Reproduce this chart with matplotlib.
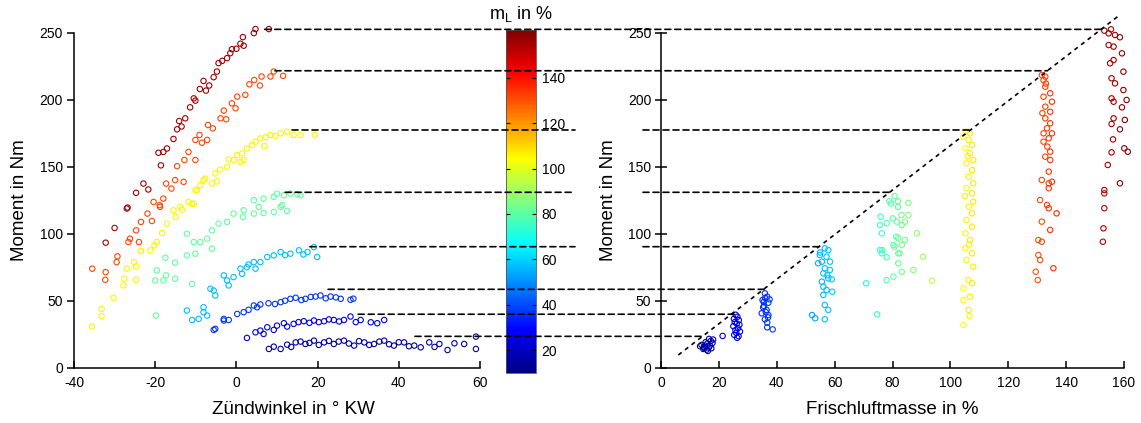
import matplotlib
matplotlib.use("Agg")
import matplotlib.pyplot as plt
from matplotlib.colors import Normalize, LinearSegmentedColormap
from matplotlib.cm import ScalarMappable
from matplotlib.patches import ConnectionPatch
from matplotlib.transforms import blended_transform_factory

plt.rcParams['font.family'] = ['Liberation Sans', 'DejaVu Sans']
plt.rcParams['mathtext.fontset'] = 'custom'
plt.rcParams['mathtext.rm'] = 'Liberation Sans'
plt.rcParams['axes.unicode_minus'] = False

# --- left plot: Zuendwinkel (deg KW) vs Moment (Nm), per air-mass level ---
zw_156 = [-32.2, -30.0, -27.0, -26.8, -24.7, -22.9, -21.7, -19.2, -18.0, -18.6, -17.1, -15.5, -14.6, -14.1,
          -12.6, -11.4, -10.5, -10.1, -8.1, -7.5, -6.7, -5.6, -4.8, -4.4, -2.3, -1.5, -1.1, 1.0, 1.8, 1.6,
          4.3, 4.7, 8.0, -13.5, -9.0, -3.5, 0.0]
md_156 = [93.3, 104.3, 118.8, 119.5, 130.5, 137.4, 133.0, 160.4, 161.0, 151.0, 163.6, 170.7, 177.9, 184.1,
          186.1, 194.3, 201.0, 199.3, 214.0, 206.8, 210.6, 216.8, 221.0, 227.3, 231.0, 234.7, 237.7, 241.8,
          240.3, 246.7, 249.7, 252.7, 252.7, 180.0, 208.0, 229.0, 238.0]

zw_132 = [-35.5, -32.2, -32.3, -29.3, -29.5, -26.6, -26.2, -24.0, -24.7, -23.5, -20.8, -21.9, -18.8, -20.4,
          -18.9, -18.0, -17.3, -16.0, -15.1, -14.6, -13.0, -12.8, -11.8, -10.1, -10.1, -9.1, -8.5, -7.2,
          -7.0, -5.8, -3.9, -3.1, -2.5, -1.1, -0.2, 0.2, 2.2, 3.2, 4.4, 5.8, 6.2, 8.4, 9.2, 11.5]
md_132 = [73.9, 71.3, 65.6, 83.1, 78.8, 93.8, 96.3, 93.8, 102.5, 108.8, 109.5, 115.0, 120.0, 123.7,
          121.3, 126.2, 137.4, 133.7, 140.0, 150.4, 138.7, 155.0, 161.0, 155.0, 170.0, 173.7, 167.9, 170.0,
          181.1, 178.6, 186.1, 191.9, 185.4, 197.3, 193.6, 202.3, 203.6, 211.5, 214.7, 210.6, 217.3, 217.3,
          221.0, 217.8]

zw_106 = [-35.6, -33.2, -33.2, -30.3, -27.8, -27.6, -27.0, -24.7, -25.2, -24.7, -23.5, -21.2, -20.2, -19.6,
          -18.3, -17.1, -15.0, -15.5, -13.4, -13.8, -11.8, -11.0, -10.5, -9.7, -10.1, -8.9, -8.1, -7.7,
          -6.0, -4.8, -5.2, -4.0, -2.3, -1.9, -0.7, 0.2, 1.0, 1.4, 1.8, 2.6, 3.9, 4.7, 5.9, 6.9, 7.2, 8.4,
          9.6, 10.9, 12.5, 14.1, 15.8, 19.3]
md_106 = [30.7, 43.9, 38.4, 52.2, 61.4, 66.4, 73.9, 65.6, 78.8, 75.6, 87.1, 87.6, 91.3, 93.8,
          100.5, 107.5, 112.5, 117.5, 118.0, 120.0, 123.7, 122.4, 122.4, 132.5, 132.5, 136.2, 140.0, 141.2,
          137.4, 139.0, 145.0, 147.9, 149.9, 155.4, 155.0, 158.7, 153.7, 159.9, 155.0, 163.6, 166.2, 168.6,
          171.1, 165.4, 171.9, 173.7, 172.9, 174.9, 176.1, 173.7, 173.7, 173.7]

zw_81 = [-19.8, -20.0, -18.0, -19.6, -17.3, -15.1, -15.1, -17.5, -10.9, -12.2, -10.1, -12.2, -10.5, -8.9,
         -6.0, -7.2, -6.0, -4.4, -2.3, -0.7, 1.6, 1.8, 4.3, 4.3, 5.5, 6.7, 6.7, 9.2, 9.2, 10.0, 10.9,
         11.3, 11.7, 13.3, 15.0, 15.8, 12.5]
md_81 = [38.9, 65.1, 65.1, 72.6, 68.9, 66.4, 78.4, 82.1, 62.6, 83.8, 85.1, 100.0, 93.8, 93.8,
         88.8, 96.3, 102.5, 107.5, 108.8, 115.0, 112.5, 117.5, 115.0, 125.0, 120.0, 126.2, 115.5, 116.2,
         127.5, 129.9, 120.0, 121.3, 128.7, 129.9, 129.5, 128.7, 117.0]

zw_57 = [-12.2, -10.9, -9.3, -8.1, -8.1, -7.2, -6.4, -5.6, -5.2, -3.1, -2.3, -1.9, -0.7, 1.0, 1.4, 2.6,
         4.3, 4.7, 5.9, 7.6, 9.2, 10.9, 13.3, 15.4, 17.5, 19.1, 19.9, 12.0, 16.5, 3.0]
md_57 = [42.7, 35.6, 36.4, 45.1, 41.4, 38.9, 58.9, 57.6, 53.9, 68.9, 65.1, 61.4, 67.6, 73.9, 70.1, 75.0,
         78.8, 73.9, 78.8, 82.6, 83.8, 86.3, 85.1, 87.6, 86.3, 90.0, 82.6, 84.0, 84.5, 77.0]

zw_37 = [-5.6, -5.2, -3.1, -3.1, -1.9, 0.2, 1.8, 3.0, 4.3, 5.1, 5.9, 7.9, 9.5, 10.9, 12.0, 13.3, 14.6,
         16.0, 17.0, 18.3, 19.5, 20.7, 22.0, 23.2, 24.5, 25.7, 28.1, 28.8]
md_37 = [28.2, 29.0, 35.2, 36.4, 35.6, 40.1, 41.4, 43.2, 46.4, 45.1, 47.2, 48.1, 47.5, 48.9, 50.0, 51.4,
         52.2, 50.5, 51.4, 52.8, 53.1, 53.9, 51.8, 53.1, 52.5, 51.4, 50.7, 51.5]

zw_26 = [2.6, 4.7, 5.9, 6.7, 7.6, 9.2, 10.0, 11.7, 12.5, 14.1, 15.3, 16.6, 18.0, 19.1, 20.3, 21.6, 22.8,
         24.0, 25.3, 26.5, 28.1, 29.4, 30.6, 33.1, 34.7, 36.4]
md_26 = [22.2, 26.4, 27.7, 25.2, 30.2, 28.2, 31.4, 33.2, 30.7, 32.7, 34.0, 34.7, 33.5, 35.2, 34.0, 34.7,
         36.0, 35.6, 34.5, 35.6, 38.2, 34.0, 35.6, 33.9, 33.2, 35.6]

zw_15 = [8.0, 9.2, 10.9, 12.5, 13.5, 14.6, 15.8, 17.0, 18.0, 19.1, 20.3, 21.6, 22.8, 24.0, 25.2, 26.5,
         27.7, 29.0, 30.2, 31.5, 32.7, 33.9, 35.2, 36.4, 37.6, 38.8, 40.0, 41.3, 42.5, 43.8, 45.4, 47.5,
         48.8, 50.0, 52.0, 53.7, 56.1, 59.0, 59.0]
md_15 = [14.0, 15.7, 14.0, 17.2, 15.5, 18.9, 19.5, 17.7, 18.5, 20.2, 17.0, 18.9, 20.0, 17.7, 19.5, 20.2,
         18.0, 16.5, 19.8, 18.9, 17.0, 17.7, 19.5, 20.2, 17.5, 16.5, 19.0, 18.9, 16.0, 16.5, 15.2, 18.9,
         15.5, 17.7, 13.2, 18.2, 17.7, 23.2, 14.0]

# --- right plot: Frischluftmasse (%) vs Moment (Nm) ---
ml_156 = [153.2, 155.5, 154.7, 156.9, 158.6, 154.7, 156.4, 159.3, 156.4, 155.2, 159.8, 155.7, 156.9, 159.8,
          155.7, 160.9, 156.4, 159.3, 156.4, 155.7, 160.3, 158.6, 156.2, 160.1, 161.3, 155.7, 154.4, 158.6,
          153.2, 153.2, 153.2, 152.9, 152.7]
mr_156 = [251.5, 252.5, 249.5, 248.3, 246.6, 240.8, 239.6, 234.6, 229.6, 227.2, 220.9, 216.0, 212.2, 207.2,
          201.0, 199.8, 198.5, 194.3, 186.1, 181.9, 184.9, 177.9, 170.4, 163.7, 161.2, 160.7, 151.3, 137.6,
          132.6, 130.1, 119.0, 104.0, 94.0]

ml_132 = [131.6, 132.8, 132.2, 132.8, 134.5, 132.2, 135.1, 132.8, 134.5, 132.8, 134.5, 133.4, 132.2, 135.1,
          134.0, 132.2, 134.5, 132.8, 134.5, 134.0, 131.6, 134.0, 135.1, 134.0, 131.0, 133.4, 134.0, 136.7,
          131.6, 134.5, 130.4, 131.6, 130.4, 131.0, 135.6, 129.5, 130.2, 133.0, 131.8, 133.5]
mr_132 = [218.4, 217.2, 214.7, 209.7, 204.8, 202.2, 198.5, 194.8, 191.0, 186.1, 182.4, 178.7, 174.9, 174.9,
          171.2, 168.7, 161.2, 157.5, 155.0, 146.3, 140.1, 137.6, 138.8, 133.9, 125.1, 121.4, 119.0, 115.2,
          109.0, 102.8, 95.3, 94.0, 84.1, 80.4, 74.2, 71.6, 65.4, 212.0, 190.0, 165.0]

ml_106 = [105.6, 106.8, 104.5, 106.3, 107.5, 105.2, 106.8, 107.9, 105.6, 107.5, 106.3, 107.9, 105.6, 107.5,
          107.9, 106.3, 107.5, 105.6, 107.5, 105.2, 106.8, 105.2, 107.5, 105.6, 107.9, 106.3, 107.5, 104.5,
          106.8, 104.5, 106.3, 106.6, 104.5, 106.0, 105.0, 106.5]
mr_106 = [176.1, 174.9, 172.4, 169.9, 166.2, 163.7, 160.0, 155.0, 152.5, 147.5, 142.5, 137.6, 133.9, 130.1,
          123.9, 120.1, 115.2, 110.2, 105.2, 100.3, 95.3, 89.1, 85.4, 80.4, 75.4, 65.4, 63.0, 59.3,
          53.0, 50.5, 43.1, 38.6, 31.9, 158.0, 128.0, 92.0]

ml_81 = [80.7, 78.9, 81.9, 85.5, 79.5, 81.9, 75.9, 80.1, 83.1, 84.3, 85.5, 75.7, 78.0, 81.5, 83.2, 88.4,
         76.3, 82.0, 80.3, 83.2, 75.7, 76.3, 82.0, 78.0, 90.6, 82.0, 87.2, 83.2, 80.3, 78.0, 93.7, 70.9,
         74.7, 81.3, 84.3, 76.5, 80.7, 82.5]
mr_81 = [128.0, 124.2, 124.2, 123.0, 122.6, 120.1, 112.7, 111.4, 113.9, 109.0, 113.9, 106.5, 107.8, 109.0,
         106.5, 100.3, 100.3, 96.6, 91.6, 91.6, 87.8, 85.4, 85.4, 82.4, 82.8, 77.9, 72.9, 71.6, 67.9, 65.4,
         64.9, 63.0, 39.8, 97.8, 95.3, 87.8, 90.3, 85.3]

ml_57 = [56.6, 57.8, 54.9, 57.2, 55.6, 58.4, 54.3, 56.6, 58.4, 56.1, 57.8, 55.6, 59.0, 56.1, 57.2, 59.2,
         56.1, 56.6, 57.8, 52.2, 53.3, 56.6, 55.0, 57.5]
mr_57 = [89.1, 87.8, 84.1, 82.8, 79.1, 79.1, 77.9, 74.2, 72.9, 70.4, 66.7, 64.2, 66.0, 60.4, 58.0, 56.7,
         54.3, 46.8, 43.1, 39.3, 36.9, 36.1, 86.0, 69.0]

ml_37 = [35.9, 36.7, 35.1, 37.1, 35.6, 36.5, 34.8, 37.1, 35.9, 36.7, 36.7, 38.6, 36.0, 37.5, 35.3, 36.2,
         37.0, 35.5]
mr_37 = [55.5, 53.0, 50.5, 48.5, 46.0, 43.1, 40.6, 39.3, 36.1, 33.6, 30.1, 28.6, 52.0, 51.0, 45.0, 41.5,
         37.5, 49.0]

ml_26 = [25.8, 26.4, 25.2, 26.9, 25.5, 26.2, 27.1, 25.0, 26.6, 25.7, 27.3, 26.0, 25.3, 26.8, 26.3, 21.3]
mr_26 = [39.5, 38.0, 36.5, 35.5, 34.0, 33.0, 32.0, 31.0, 29.5, 28.0, 27.0, 26.0, 24.5, 23.5, 22.3, 23.7]

ml_15 = [14.0, 15.2, 16.0, 17.2, 15.0, 16.5, 17.8, 13.5, 14.6, 15.8, 16.9, 18.0, 15.4, 16.6, 17.4, 14.8, 16.2]
mr_15 = [17.0, 16.5, 18.0, 20.0, 14.5, 15.0, 18.5, 16.0, 14.0, 13.5, 16.5, 21.0, 19.0, 21.5, 14.5, 15.5, 12.5]

levels = [15, 26, 37, 57, 81, 106, 132, 156]
left_sets = [(zw_15, md_15), (zw_26, md_26), (zw_37, md_37), (zw_57, md_57),
             (zw_81, md_81), (zw_106, md_106), (zw_132, md_132), (zw_156, md_156)]
right_sets = [(ml_15, mr_15), (ml_26, mr_26), (ml_37, mr_37), (ml_57, mr_57),
              (ml_81, mr_81), (ml_106, mr_106), (ml_132, mr_132), (ml_156, mr_156)]

# dashed guide lines: torque level, start x in left plot, end x in right plot (on the diagonal)
guide_y = [252.5, 221.6, 177.4, 130.9, 90.3, 58.5, 39.9, 23.4]
guide_x0 = [7.0, 9.5, 13.7, 12.0, 18.1, 22.6, 30.0, 44.0]
guide_x1 = [152.3, 133.6, 107.3, 79.5, 54.3, 35.6, 25.5, 14.7]
guide_gap = [False, False, True, True, True, False, False, False]
diag_x = [6.0, 157.8]
diag_y = [9.5, 262.0]

# MATLAB-style jet
cmap = LinearSegmentedColormap.from_list('mjet', [
    (0.0, (0, 0, 0.5)), (0.125, (0, 0, 1)), (0.375, (0, 1, 1)),
    (0.625, (1, 1, 0)), (0.875, (1, 0, 0)), (1.0, (0.5, 0, 0))])
norm = Normalize(vmin=10, vmax=161)

W, H = 1141, 423
fig = plt.figure(figsize=(W / 100, H / 100), dpi=100)
ax1 = fig.add_axes([74 / W, 55.3 / H, 406 / W, 335 / H])
ax2 = fig.add_axes([661 / W, 55.3 / H, 463 / W, 335 / H])
cax = fig.add_axes([506 / W, 50 / H, 30 / W, 343 / H])

for lv, (x, y) in zip(levels, left_sets):
    ax1.scatter(x, y, s=15, facecolors='none', edgecolors=[cmap(norm(lv))] * len(x),
                linewidths=0.8, clip_on=False, zorder=3)
for lv, (x, y) in zip(levels, right_sets):
    ax2.scatter(x, y, s=15, facecolors='none', edgecolors=[cmap(norm(v)) for v in x],
                linewidths=0.8, clip_on=False, zorder=3)

ax2.plot(diag_x, diag_y, color='black', lw=1.2, linestyle=(0, (2.5, 2.5)), clip_on=False, zorder=4)

for ax, xl, xt in [(ax1, (-40, 60), range(-40, 61, 20)), (ax2, (0, 160), range(0, 161, 20))]:
    ax.set_xlim(*xl)
    ax.set_ylim(0, 250)
    ax.set_xticks(list(xt))
    ax.set_yticks(range(0, 251, 50))
    ax.spines['top'].set_visible(False)
    ax.spines['right'].set_visible(False)
    ax.spines['left'].set_linewidth(1.1)
    ax.spines['bottom'].set_linewidth(1.1)
    ax.tick_params(axis='x', direction='in', length=5, width=1.1, pad=6, labelsize=10)
    ax.set_ylabel('Moment in Nm', fontsize=13.5, labelpad=8)
ax1.tick_params(axis='y', direction='out', length=5, width=1.1, pad=3, labelsize=10)
ax2.tick_params(axis='y', direction='inout', length=8, width=1.1, pad=3, labelsize=10)
ax1.set_xlabel('Zündwinkel in ° KW', fontsize=13.5)
ax1.xaxis.set_label_coords(0.54, -0.1)
ax2.set_xlabel('Frischluftmasse in %', fontsize=13.5)
ax2.xaxis.set_label_coords(0.5, -0.1)

cb = fig.colorbar(ScalarMappable(norm=norm, cmap=cmap), cax=cax)
cb.set_ticks(range(20, 141, 20))
cb.ax.tick_params(direction='in', left=True, right=True, length=3, labelsize=10, pad=4)
cb.outline.set_linewidth(0.6)
cb.outline.set_edgecolor('#555555')
fig.text(521 / W, 1 - 14 / H, r'$\mathregular{m_L}$ in %', ha='center', va='center', fontsize=13)

dash = (0, (3.6, 2.4))
gap_l = blended_transform_factory(fig.transFigure, ax1.transData)
for y, x0, x1, gap in zip(guide_y, guide_x0, guide_x1, guide_gap):
    if gap:
        segs = [((x0, y), ax1.transData, (575 / W, y), gap_l),
                ((643 / W, y), gap_l, (x1, y), ax2.transData)]
    else:
        segs = [((x0, y), ax1.transData, (x1, y), ax2.transData)]
    for a, ta, b, tb in segs:
        con = ConnectionPatch(xyA=a, coordsA=ta, xyB=b, coordsB=tb,
                              color='black', lw=1.2, linestyle=dash, zorder=5)
        fig.add_artist(con)

fig.savefig('out.png', dpi=100)
